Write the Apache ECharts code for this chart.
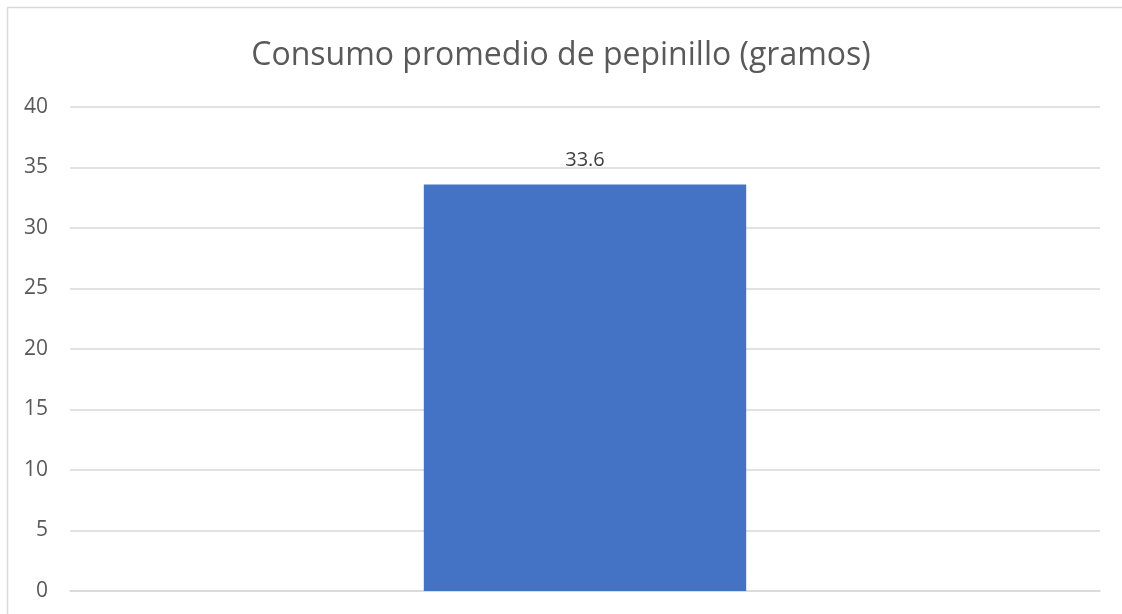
<!DOCTYPE html>
<html>
<head>
<meta charset="utf-8">
<script src="https://cdn.jsdelivr.net/npm/echarts@6/dist/echarts.min.js"></script>
<style>
  html, body { margin: 0; padding: 0; background: #ffffff; }
  #chart { width: 1122px; height: 614px; }
</style>
</head>
<body>
<div id="chart"></div>
<script>
// Chart data
const chartTitle = 'Consumo promedio de pepinillo (gramos)';
const categories = [''];
const values = [33.6];
const yTicks = { min: 0, max: 40, interval: 5 };

const chart = echarts.init(document.getElementById('chart'), null, { renderer: 'canvas' });
const textColor = '#595959';
const fontFamily = '"Open Sans", "Noto Sans", sans-serif';

chart.setOption({
  animation: false,
  backgroundColor: '#ffffff',
  graphic: [{
    type: 'rect',
    shape: { x: 7.5, y: 7.5, width: 1130, height: 640 },
    style: { fill: 'none', stroke: '#d9d9d9', lineWidth: 1.5 },
    silent: true
  }],
  title: {
    text: chartTitle,
    left: 'center',
    top: 35,
    textStyle: { color: textColor, fontSize: 32, fontWeight: 'normal', fontFamily: fontFamily }
  },
  grid: { left: 70, right: 22, top: 107, bottom: 23 },
  xAxis: {
    type: 'category',
    data: categories,
    axisLine: { show: true, lineStyle: { color: '#d9d9d9', width: 1.5 } },
    axisTick: { show: false },
    axisLabel: { show: false }
  },
  yAxis: {
    type: 'value',
    min: yTicks.min,
    max: yTicks.max,
    interval: yTicks.interval,
    axisLine: { show: false },
    axisTick: { show: false },
    axisLabel: { color: textColor, fontSize: 21, margin: 22, fontFamily: fontFamily },
    splitLine: { lineStyle: { color: '#d9d9d9', width: 1.5 } }
  },
  series: [{
    type: 'bar',
    data: values,
    barWidth: '31.3%',
    itemStyle: { color: '#4472C4' },
    label: {
      show: true,
      position: 'top',
      distance: 14,
      color: '#404040',
      fontSize: 20,
      fontFamily: fontFamily,
      formatter: p => p.value.toFixed(1)
    }
  }]
});
</script>
</body>
</html>
